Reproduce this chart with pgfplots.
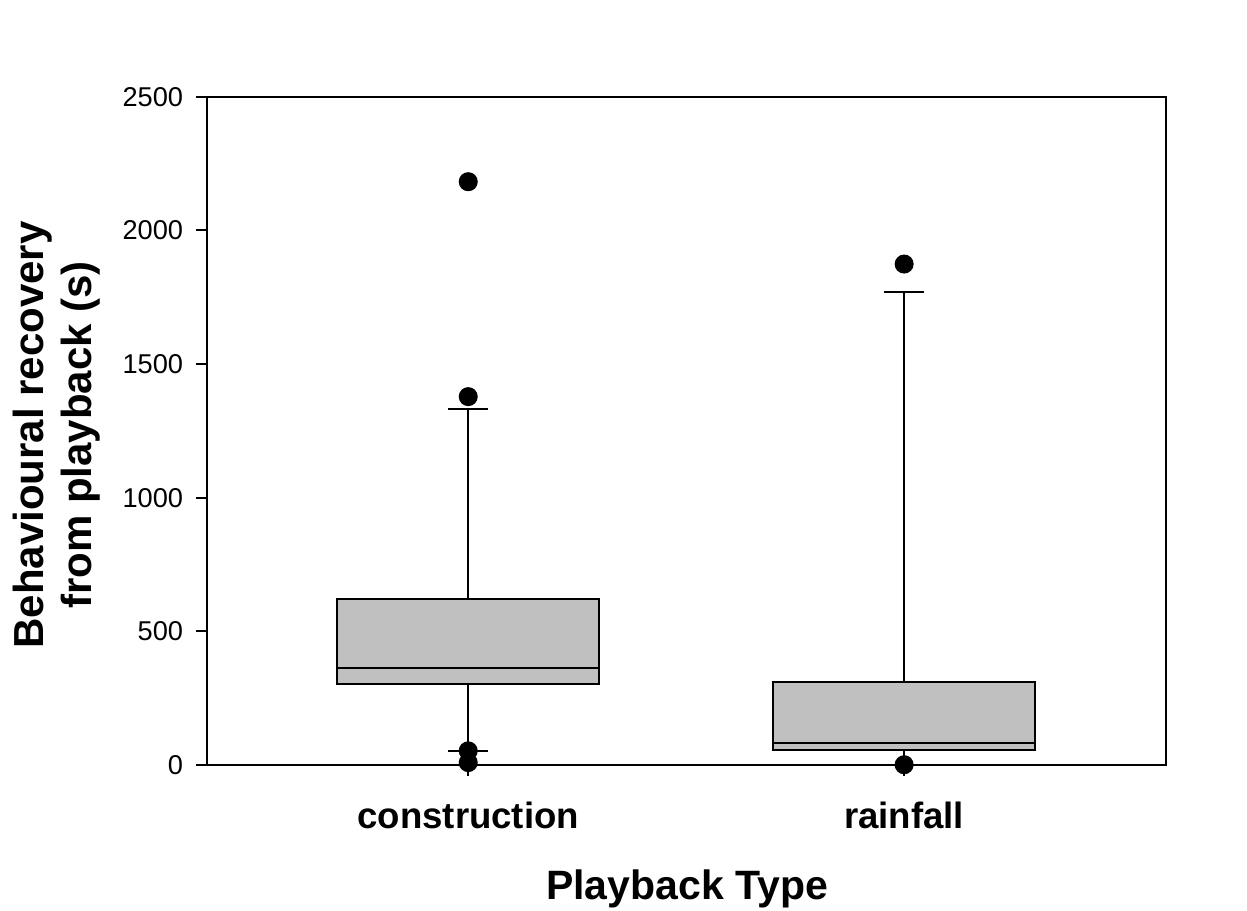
\documentclass[border=0pt]{standalone}
\usepackage{fontspec}
\setmainfont{Liberation Sans}
\usepackage{pgfplots}
\pgfplotsset{compat=1.18}
\usepgfplotslibrary{statistics}
\definecolor{boxgray}{RGB}{192,192,192}
\begin{document}
\begin{tikzpicture}
\begin{axis}[
 at={(0,0)}, anchor=south west,
 scale only axis, width=479.5pt, height=334.15pt,
 xmin=0.4, xmax=2.6, ymin=0, ymax=2500,
 xtick={1,2}, xticklabels={construction,rainfall},
 ytick={0,500,1000,1500,2000,2500},
 tick pos=left, tick align=outside, major tick length=5.3pt,
 tick style={black, line width=1pt},
 axis line style={line width=1pt},
 /pgf/number format/assume math mode=true,
 /pgf/number format/1000 sep={},
 yticklabel style={font=\fontsize{13.6}{15}\selectfont, xshift=-3pt},
 xticklabel style={font=\bfseries\fontsize{18.3}{21}\selectfont, anchor=base, yshift=-26.6pt},
 xlabel={Playback Type},
 xlabel style={font=\bfseries\fontsize{20.5}{24}\selectfont, at={(axis description cs:0.501,-0.185)}, anchor=center},
 ylabel={Behavioural recovery\\from playback (s)},
 ylabel style={font=\bfseries\fontsize{21}{24}\selectfont, align=center, at={(axis description cs:-0.1566,0.4938)}, anchor=center, rotate=0},
 clip=false,
 boxplot/draw direction=y,
]
\addplot[boxplot prepared={lower whisker=52, lower quartile=303, median=362, upper quartile=620, upper whisker=1331, draw position=1, box extend=0.6, whisker extend=0.092},
 fill=boxgray, draw=black, line width=1pt, mark=*, mark size=4.25pt, mark options={fill=black, draw=black, solid}]
 table[row sep=\\, y index=0] {data\\ 2182\\ 1378\\ 53\\ 9\\};
\addplot[boxplot prepared={lower whisker=0, lower quartile=56, median=82, upper quartile=309, upper whisker=1768, draw position=2, box extend=0.6, whisker extend=0.092},
 fill=boxgray, draw=black, line width=1pt, mark=*, mark size=4.25pt, mark options={fill=black, draw=black, solid}]
 table[row sep=\\, y index=0] {data\\ 1874\\ 1\\};
\end{axis}
\pgfresetboundingbox
\path[use as bounding box] (-103.35pt,-72.5pt) rectangle (520.15pt,382.5pt);
\end{tikzpicture}
\end{document}
